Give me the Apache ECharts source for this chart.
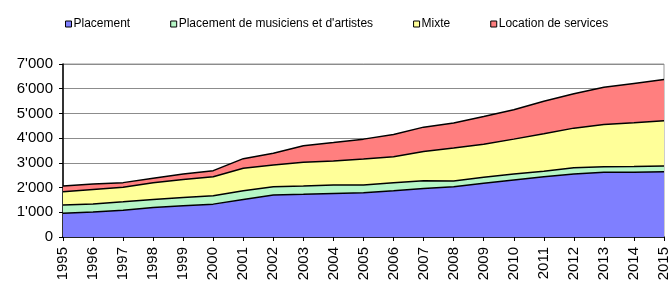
<!DOCTYPE html>
<html>
<head>
<meta charset="utf-8">
<script src="https://cdn.jsdelivr.net/npm/echarts@6/dist/echarts.min.js"></script>
<style>
  html, body { margin: 0; padding: 0; background: #fff; }
  #chart { width: 670px; height: 282px; }
</style>
</head>
<body>
<div id="chart"></div>
<script>
const years = ["1995", "1996", "1997", "1998", "1999", "2000", "2001", "2002", "2003", "2004", "2005",
  "2006", "2007", "2008", "2009", "2010", "2011", "2012", "2013", "2014", "2015"];
const placement = [960, 1015, 1085, 1195, 1260, 1330, 1520, 1695, 1725, 1765, 1790,
  1870, 1965, 2035, 2170, 2305, 2440, 2550, 2615, 2620, 2640];
const musiciens = [330, 325, 340, 325, 340, 340, 350, 340, 335, 335, 315,
  325, 310, 235, 245, 245, 225, 255, 230, 230, 235];
const mixte = [540, 585, 585, 675, 730, 770, 910, 880, 960, 975, 1055,
  1055, 1180, 1330, 1340, 1410, 1515, 1600, 1705, 1775, 1830];
const locationServices = [230, 215, 190, 180, 215, 245, 390, 475, 675, 745, 800,
  895, 990, 1015, 1120, 1190, 1310, 1395, 1505, 1585, 1665];
const yTicks = [0, 1000, 2000, 3000, 4000, 5000, 6000, 7000];

const names = ["Placement", "Placement de musiciens et d'artistes", "Mixte", "Location de services"];
const colors = ["#7f7fff", "#b6f6c6", "#ffff99", "#ff7f7f"];
const values = [placement, musiciens, mixte, locationServices];

function fmt(v) {
  if (v < 1000) return String(v);
  return Math.floor(v / 1000) + "'" + String(v % 1000).padStart(3, "0");
}

// year labels drawn as rotated text elements placed by the x scale
const yearLabels = {
  type: "custom",
  silent: true,
  clip: false,
  z: 10,
  data: years.map(y => [y, 0]),
  renderItem: function (params, api) {
    const pt = api.coord([api.value(0), 0]);
    return {
      type: "text",
      x: pt[0],
      y: pt[1] + 10,
      rotation: Math.PI / 2,
      style: {
        text: years[params.dataIndex],
        textAlign: "right",
        textVerticalAlign: "middle",
        align: "right",
        verticalAlign: "middle",
        fontSize: 15,
        fontFamily: "Liberation Sans, Arial, sans-serif",
        fill: "#000"
      }
    };
  }
};

const chart = echarts.init(document.getElementById("chart"));
chart.setOption({
  animation: false,
  textStyle: { fontFamily: "Liberation Sans, Arial, sans-serif" },
  legend: {
    left: 60,
    top: 13,
    icon: "rect",
    itemWidth: 6,
    itemHeight: 6,
    itemGap: 40,
    itemStyle: { borderColor: "#000", borderWidth: 1 },
    textStyle: { fontSize: 12, color: "#000", padding: [0, 0, 0, -3] },
    data: names
  },
  grid: {
    left: 63,
    right: 6,
    top: 64,
    bottom: 45,
    show: true,
    borderColor: "#999",
    borderWidth: 1
  },
  xAxis: {
    type: "category",
    boundaryGap: false,
    data: years,
    axisLine: { lineStyle: { color: "#000", width: 1.5 } },
    axisTick: { show: true, length: 4, interval: 0, lineStyle: { color: "#000" } },
    axisLabel: { show: false }
  },
  yAxis: {
    type: "value",
    min: yTicks[0],
    max: yTicks[yTicks.length - 1],
    interval: 1000,
    axisLine: { show: true, lineStyle: { color: "#000", width: 1.5 } },
    axisTick: { show: true, length: 4, lineStyle: { color: "#000" } },
    axisLabel: { fontSize: 15, color: "#000", margin: 10, formatter: fmt },
    splitLine: { lineStyle: { color: "#8c8c8c", width: 1.2 } }
  },
  series: values.map((d, i) => ({
    name: names[i],
    type: "line",
    stack: "total",
    data: d,
    symbol: "none",
    color: colors[i],
    lineStyle: { color: "#000", width: 1.5 },
    areaStyle: { color: colors[i], opacity: 1 },
    z: 2
  })).concat([yearLabels])
});
</script>
</body>
</html>
